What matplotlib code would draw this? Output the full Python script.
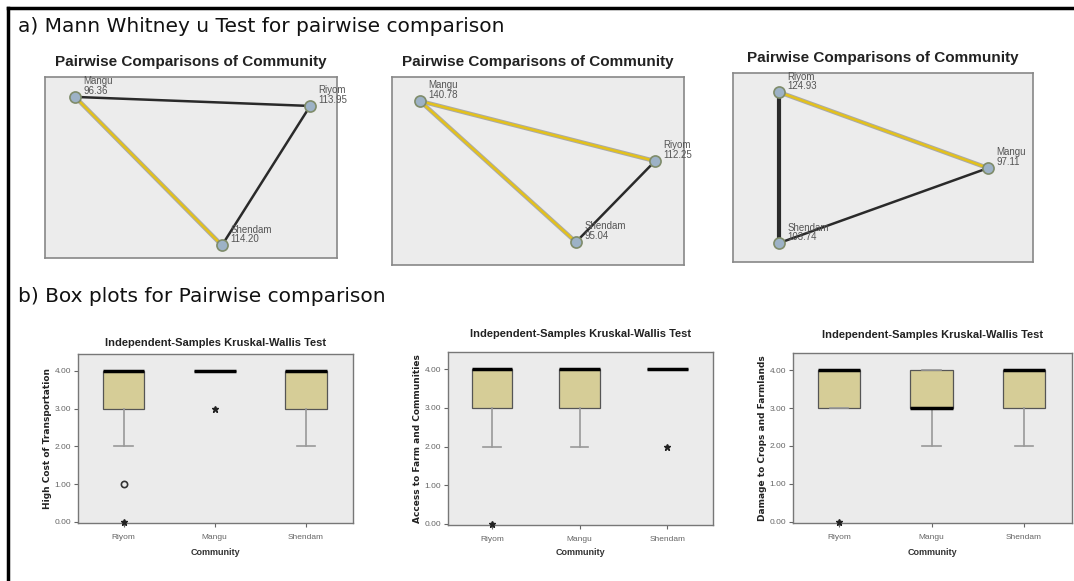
import matplotlib
matplotlib.use('Agg')
from matplotlib import pyplot as plt
from matplotlib.lines import Line2D

W, H = 1074, 581

# ---- a) pairwise comparison networks ----
net_titles = ['Pairwise Comparisons of Community'] * 3
net_names = [['Mangu', 'Riyom', 'Shendam'],
             ['Mangu', 'Riyom', 'Shendam'],
             ['Riyom', 'Mangu', 'Shendam']]
net_ranks = [['96.36', '113.95', '114.20'],
             ['140.78', '112.25', '95.04'],
             ['124.93', '97.11', '103.74']]
# node layout (0-100 units inside each panel)
net_x = [[10.3, 90.8, 60.6], [9.6, 90.1, 63.0], [15.3, 85.0, 15.3]]
net_y = [[89.0, 84.0, 7.0], [87.2, 55.3, 12.2], [89.9, 49.7, 10.0]]
# edges: (from, to, significant?)
net_edges = [[(0, 1, False), (1, 2, False), (0, 2, True)],
             [(0, 1, True), (0, 2, True), (1, 2, False)],
             [(0, 1, True), (0, 2, False), (1, 2, False)]]

# ---- b) box plots ----
communities = ['Riyom', 'Mangu', 'Shendam']
box_ylabels = ['High Cost of Transportation',
               'Access to Farm and Communities',
               'Damage to Crops and Farmlands']
q1 = [[3, 4, 3], [3, 3, 4], [3, 3, 3]]
med = [[4, 4, 4], [4, 4, 4], [4, 3, 4]]
q3 = [[4, 4, 4], [4, 4, 4], [4, 4, 4]]
whislo = [[2, 4, 2], [2, 2, 4], [3, 2, 2]]
whishi = [[4, 4, 4], [4, 4, 4], [4, 4, 4]]
outliers = [[[1], [], []], [[], [], []], [[], [], []]]
extremes = [[[0], [3], []], [[0], [], [2]], [[0], [], []]]


def px_rect(x0, y0, x1, y1):
    return [x0 / W, 1 - y1 / H, (x1 - x0) / W, (y1 - y0) / H]


fig = plt.figure(figsize=(W / 100, H / 100), dpi=100)
fig.patch.set_facecolor('white')

# outer frame (top and left edges)
fig.add_artist(Line2D([8 / W, 1], [1 - 8 / H, 1 - 8 / H], color='black', lw=2.5))
fig.add_artist(Line2D([8 / W, 8 / W], [1 - 8 / H, 0], color='black', lw=2.5))

fig.text(18 / W, 1 - 27 / H, 'a) Mann Whitney u Test for pairwise comparison',
         fontsize=14.5, family='DejaVu Sans', va='center', ha='left', color='#111111')
fig.text(18 / W, 1 - 297 / H, 'b) Box plots for Pairwise comparison',
         fontsize=14.5, family='DejaVu Sans', va='center', ha='left', color='#111111')

net_boxes = [(45, 77, 337, 258), (392, 77, 684, 265), (733, 73, 1033, 262)]
net_title_y = [62, 62, 58]
for i in range(3):
    x0, y0, x1, y1 = net_boxes[i]
    ax = fig.add_axes(px_rect(x0, y0, x1, y1))
    ax.set_facecolor('#ececec')
    ax.set_xlim(0, 100)
    ax.set_ylim(0, 100)
    ax.set_xticks([])
    ax.set_yticks([])
    for s in ax.spines.values():
        s.set_color('#888888')
        s.set_linewidth(1.2)
    fig.text((x0 + x1) / 2 / W, 1 - net_title_y[i] / H, net_titles[i],
             ha='center', va='center', fontsize=11, fontweight='bold',
             family='Liberation Sans', color='#222222')
    xs, ys = net_x[i], net_y[i]
    for a, b, sig in net_edges[i]:
        if sig:
            ax.plot([xs[a], xs[b]], [ys[a], ys[b]], color='#aaaaaa', lw=3.2,
                    solid_capstyle='round', zorder=1)
            ax.plot([xs[a], xs[b]], [ys[a], ys[b]], color='#e3c11c', lw=1.8, zorder=2)
        else:
            lw = 3.0 if (i == 2 and a == 0 and b == 2) else 1.8
            ax.plot([xs[a], xs[b]], [ys[a], ys[b]], color='#2a2a2a', lw=lw, zorder=2)
    ax.plot(xs, ys, 'o', ms=8, mfc='#9db2c6', mec='#7f8c6a', mew=1.2,
            ls='none', zorder=3)
    for k in range(3):
        ax.annotate(net_names[i][k] + '\n' + net_ranks[i][k], (xs[k], ys[k]),
                    xytext=(6, 1), textcoords='offset points', fontsize=7,
                    color='#555555', va='bottom', ha='left', linespacing=0.9,
                    family='Liberation Sans', zorder=4)

box_boxes = [(78, 354, 353, 523), (448, 352, 713, 525), (793, 353, 1072, 523)]
box_title_y = [343, 334, 335]
narrow = ['Liberation Sans Narrow', 'Liberation Sans']
for i in range(3):
    x0, y0, x1, y1 = box_boxes[i]
    ax = fig.add_axes(px_rect(x0, y0, x1, y1))
    ax.set_facecolor('#ebebeb')
    stats = []
    for j in range(3):
        stats.append(dict(q1=q1[i][j], med=med[i][j], q3=q3[i][j],
                          whislo=whislo[i][j], whishi=whishi[i][j],
                          fliers=outliers[i][j]))
    ax.bxp(stats, positions=[0, 1, 2], widths=0.46, patch_artist=True,
           boxprops=dict(facecolor='#d6cd97', edgecolor='#555555', lw=0.9),
           medianprops=dict(color='black', lw=2.5),
           whiskerprops=dict(color='#999999', lw=1.2),
           capprops=dict(color='#999999', lw=1.2),
           capwidths=0.2,
           flierprops=dict(marker='o', ms=4.5, mfc='none', mec='#333333', mew=1.2))
    for j in range(3):
        if extremes[i][j]:
            ax.plot([j] * len(extremes[i][j]), extremes[i][j], marker='*', ms=5,
                    color='#222222', ls='none', clip_on=False, zorder=5)
    ax.set_xlim(-0.5, 2.52)
    ax.set_ylim(-0.03, 4.45)
    ax.set_yticks([0, 1, 2, 3, 4])
    ax.set_yticklabels(['0.00', '1.00', '2.00', '3.00', '4.00'])
    ax.set_xticks([0, 1, 2])
    ax.set_xticklabels(communities)
    ax.tick_params(axis='both', labelsize=6, colors='#666666', length=3, pad=2)
    ax.tick_params(axis='x', pad=5)
    for lab in ax.get_xticklabels() + ax.get_yticklabels():
        lab.set_family(narrow)
    for s in ax.spines.values():
        s.set_color('#777777')
        s.set_linewidth(1.0)
    ax.set_xlabel('Community', fontsize=6.5, fontweight='bold', color='#333333',
                  family=narrow)
    ax.xaxis.set_label_coords(0.5, -(548 - y1) / (y1 - y0))
    ax.set_ylabel(box_ylabels[i], fontsize=6.5, fontweight='bold', color='#222222')
    ax.yaxis.set_label_coords(-26 / (x1 - x0), 0.5)
    fig.text((x0 + x1) / 2 / W, 1 - box_title_y[i] / H,
             'Independent-Samples Kruskal-Wallis Test', ha='center', va='center',
             fontsize=8, fontweight='bold', family=narrow, color='#222222')

fig.savefig('out.png', dpi=100)
